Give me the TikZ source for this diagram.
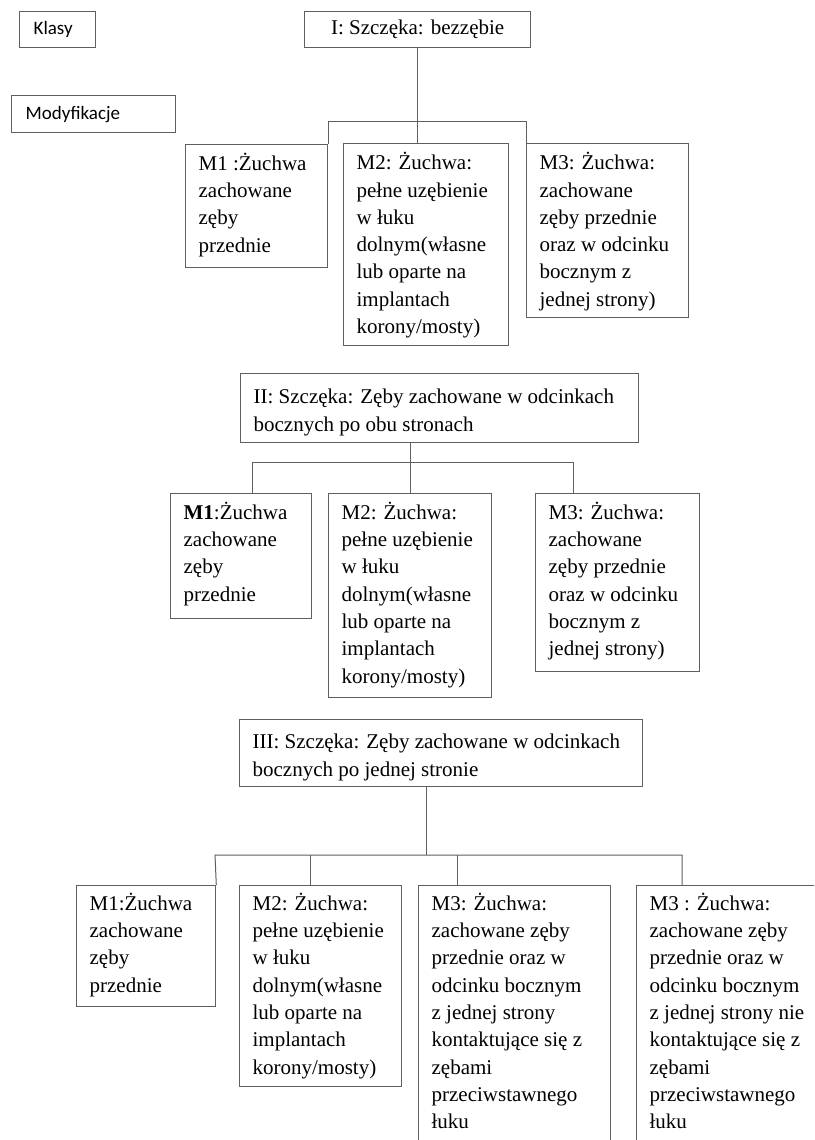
\documentclass[tikz,border=0pt]{standalone}
\usepackage{fontspec}
\setmainfont{Liberation Serif}
\newfontfamily\carlito{Carlito}
\definecolor{linegray}{RGB}{95,95,95}
\newcommand\boxtext[4]{\parbox[c][#2pt][t]{\dimexpr#1pt-26pt\relax}{\vspace*{#3pt}\raggedright\strut#4}}
\tikzset{
  frame/.style={draw=linegray, line width=1.3pt, inner sep=0pt, anchor=north west},
  mbox/.style={frame, inner xsep=13pt, font=\fontsize{21}{27.3}\selectfont},
  cbox/.style={frame, font=\fontsize{21}{27.3}\selectfont, align=center},
  lbox/.style={frame, inner xsep=14pt, align=left, font=\carlito\fontsize{19}{23}\selectfont},
  link/.style={draw=linegray, line width=1pt},
}
\begin{document}
\begin{tikzpicture}[x=1pt,y=-1pt]
\useasboundingbox (0,0) rectangle (814,1140);
\fill[white] (0,0) rectangle (814,1140);
\clip (0,0) rectangle (814,1140);

% legend
\node[lbox, text width=48pt, minimum height=36pt] (klasy) at (19,11) {Klasy};
\node[lbox, text width=136pt, minimum height=37pt] (mod) at (11,95) {Modyfikacje};

% class I
\node[cbox, minimum width=226pt, minimum height=36pt] (c1) at (304,11) {I: Szczęka: bezzębie};
\node[mbox] (a1) at (185,144) {\boxtext{142}{123}{6.5}{M1 :Żuchwa\\zachowane\\zęby\\przednie}};
\node[mbox] (a2) at (343,143) {\boxtext{165}{202}{7}{M2: Żuchwa:\\pełne uzębienie\\w łuku\\dolnym(własne\\lub oparte na\\implantach\\korony/mosty)}};
\node[mbox] (a3) at (526,143) {\boxtext{162}{174}{7}{M3: Żuchwa:\\zachowane\\zęby przednie\\oraz w odcinku\\bocznym z\\jednej strony)}};
\coordinate (j1) at (0,121);
\draw[link] (c1.south) -- (c1.south |- a2.north);
\draw[link] (a1.north east) -- (a1.north east |- j1) -- (a3.north west |- j1) -- (a3.north west);

% class II
\node[mbox] (c2) at (240,373) {\boxtext{398}{69}{11}{II: Szczęka: Zęby zachowane w odcinkach\\bocznych po obu stronach}};
\node[mbox] (b1) at (170,493) {\boxtext{141}{125}{6.5}{\textbf{M1}:Żuchwa\\zachowane\\zęby\\przednie}};
\node[mbox] (b2) at (328,493) {\boxtext{163}{204}{6.5}{M2: Żuchwa:\\pełne uzębienie\\w łuku\\dolnym(własne\\lub oparte na\\implantach\\korony/mosty)}};
\node[mbox] (b3) at (535,493) {\boxtext{164}{178}{6.5}{M3: Żuchwa:\\zachowane\\zęby przednie\\oraz w odcinku\\bocznym z\\jednej strony)}};
\coordinate (j2) at (252,462);
\coordinate (k2) at (573,462);
\draw[link] (b2.north |- c2.south) -- (b2.north);
\draw[link] (b1.north -| j2) -- (j2) -- (k2) -- (b3.north -| k2);

% class III
\node[mbox] (c3) at (239,719) {\boxtext{403}{67}{10}{III: Szczęka: Zęby zachowane w odcinkach\\bocznych po jednej stronie}};
\node[mbox] (d1) at (76,885) {\boxtext{139}{121}{5.5}{M1:Żuchwa\\zachowane\\zęby\\przednie}};
\node[mbox] (d2) at (239,885) {\boxtext{162}{201}{5.5}{M2: Żuchwa:\\pełne uzębienie\\w łuku\\dolnym(własne\\lub oparte na\\implantach\\korony/mosty)}};
\node[mbox] (d3) at (418,885) {\boxtext{192}{300}{5.5}{M3: Żuchwa:\\zachowane zęby\\przednie oraz w\\odcinku bocznym\\z jednej strony\\kontaktujące się z\\zębami\\przeciwstawnego\\łuku}};
\node[mbox] (d4) at (636,885) {\boxtext{214}{300}{5.5}{M3 : Żuchwa:\\zachowane zęby\\przednie oraz w\\odcinku bocznym\\z jednej strony nie\\kontaktujące się z\\zębami\\przeciwstawnego\\łuku}};
\coordinate (j3) at (426,855);
\coordinate (l3) at (215,855);
\coordinate (m2) at (310,855);
\coordinate (m3) at (457,855);
\coordinate (r3) at (682,855);
\draw[link] (c3.south -| j3) -- (j3);
\draw[link] (d1.north east) -- (l3) -- (r3) -- (d4.north -| r3);
\draw[link] (m2) -- (d2.north -| m2);
\draw[link] (m3) -- (d3.north -| m3);
\end{tikzpicture}
\end{document}
